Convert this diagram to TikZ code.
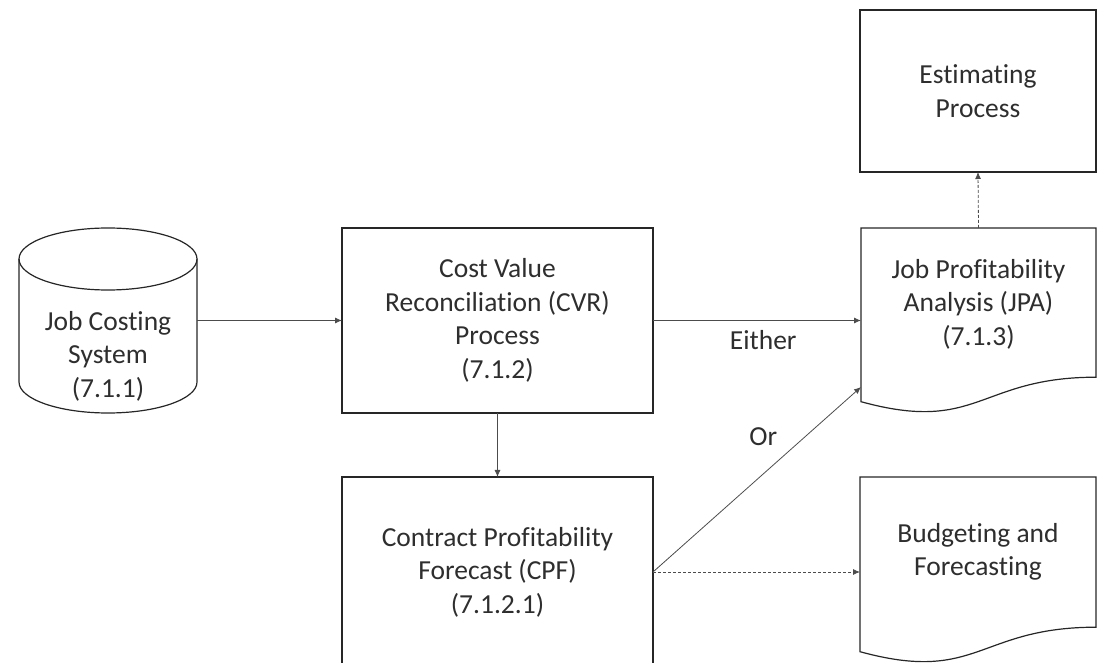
\documentclass[tikz,border=0pt]{standalone}
\usepackage{fontspec}
\setmainfont{Carlito}[Ligatures=NoCommon]
\usetikzlibrary{arrows.meta}

% outline of a flowchart "document" shape around a named node
\newcommand\docoutline[1]{%
  \draw[outline] (#1.north west) -- (#1.north east)
    -- ([yshift=36.8pt]#1.south east)
    .. controls ([yshift=36.8pt]#1.south) and ([yshift=-20pt]#1.south)
    .. ([yshift=12.3pt]#1.south west) -- cycle;}

\begin{document}
\begin{tikzpicture}[x=1pt,y=1pt,
  txt/.style={font=\fontsize{27.5}{33.5}\selectfont, text=black!82},
  outline/.style={draw=black!85, line width=1.2pt},
  procbox/.style={outline, rectangle, inner sep=0pt, outer sep=0pt, align=center, txt},
  hold/.style={rectangle, inner sep=0pt, outer sep=0pt},
  lbl/.style={align=center, inner sep=0pt, txt},
  flow/.style={draw=black!70, line width=0.8pt, -{Latex[length=7pt,width=6pt]}},
  flowdot/.style={flow, dash pattern=on 3pt off 2pt},
]
\clip (0,0) rectangle (1098,662);

% database cylinder
\node[hold, minimum width=178pt, minimum height=185pt] (jcs) at (108,341.5) {};
\draw[outline] ([yshift=-31pt]jcs.north) ellipse [x radius=89pt, y radius=31pt];
\draw[outline] ([yshift=-31pt]jcs.north west) -- ([yshift=31pt]jcs.south west)
  arc[start angle=180, end angle=360, x radius=89pt, y radius=31pt]
  -- ([yshift=-31pt]jcs.north east);
\node[lbl] (jcstext) at (108,306) {Job Costing\\System\\(7.1.1)};

% process boxes
\node[procbox, minimum width=311pt, minimum height=185pt] (cvr) at (497.5,341.5)
  {Cost Value\\Reconciliation (CVR)\\Process\\(7.1.2)};
\node[procbox, minimum width=311pt, minimum height=190pt] (cpf) at (497.5,90)
  {Contract Profitability\\Forecast (CPF)\\(7.1.2.1)};
\node[procbox, minimum width=236pt, minimum height=162pt] (est) at (978,571)
  {Estimating\\Process};

% document shapes
\node[hold, minimum width=235pt, minimum height=186pt] (jpa) at (978.5,341) {};
\docoutline{jpa}
\node[lbl] (jpatext) at (978.5,358) {Job Profitability\\Analysis (JPA)\\(7.1.3)};

\node[hold, minimum width=236pt, minimum height=187pt] (bud) at (978,91.5) {};
\docoutline{bud}
\node[lbl] (budtext) at (978,110) {Budgeting and\\Forecasting};

% connectors
\draw[flow] (jcs.east) -- (cvr.west);
\draw[flow] (cvr.south) -- (cpf.north);
\draw[flow] (cvr.east) -- (cvr.east -| jpa.west)
  node[lbl, pos=0.53, yshift=-20pt] (either) {Either};
\draw[flow] (cpf.east) -- ([yshift=27pt]jpa.south west)
  node[lbl, pos=0.53, yshift=37pt] (or) {Or};
\draw[flowdot] (cpf.east) -- (cpf.east -| bud.west);
\draw[flowdot] (jpa.north) -- (est.south);
\end{tikzpicture}
\end{document}
